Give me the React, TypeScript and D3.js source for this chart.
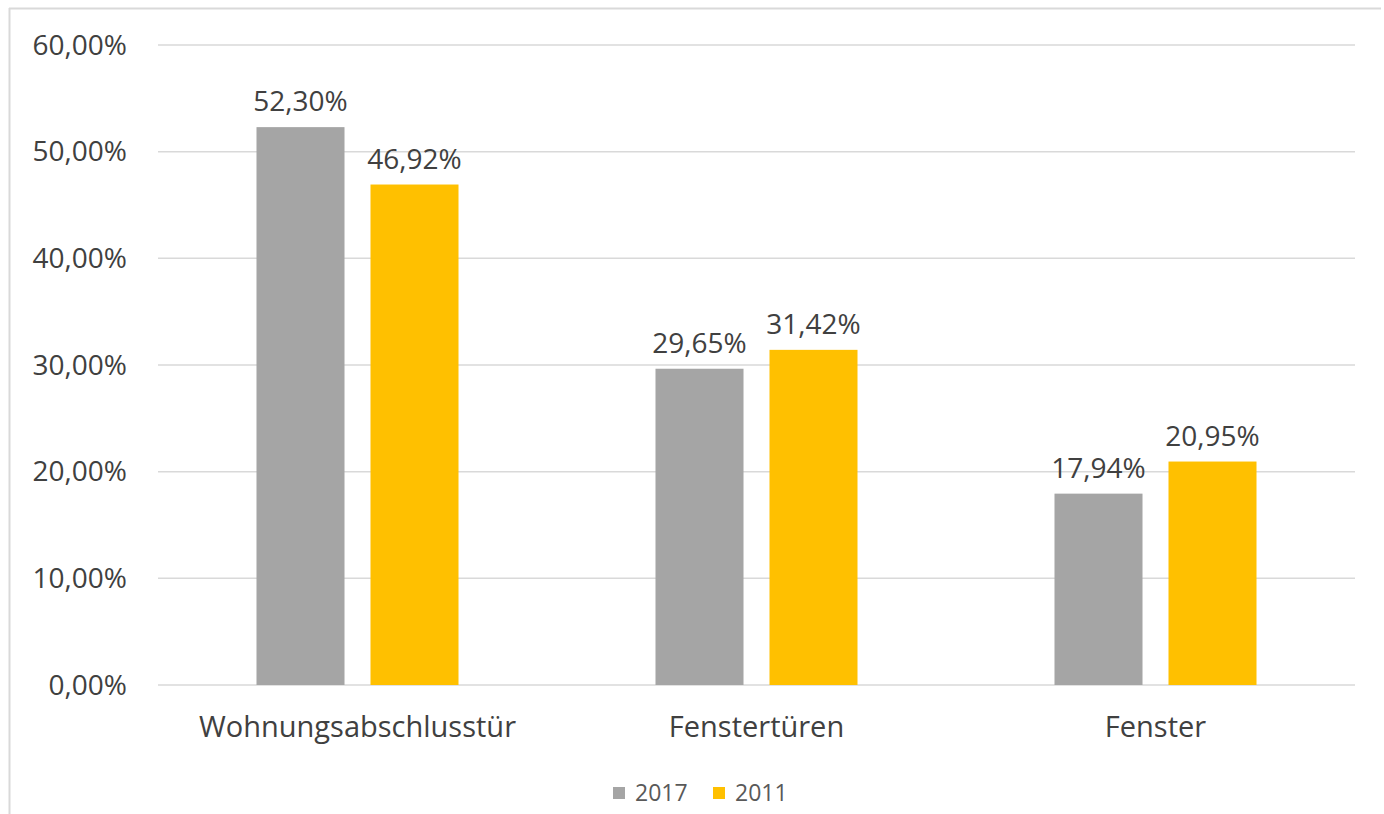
import React from 'react';
import * as d3 from 'd3';

// chart data
const categories = ['Wohnungsabschlusstür', 'Fenstertüren', 'Fenster'];
const seriesNames = ['2017', '2011'];
const values2017 = [52.3, 29.65, 17.94];
const values2011 = [46.92, 31.42, 20.95];
const yTicks = [0, 10, 20, 30, 40, 50, 60];

const colors = ['#A5A5A5', '#FFC000'];
const font = '"Open Sans", Lato, sans-serif';

const W = 1384;
const H = 814;
const m = { left: 158, right: 1355, top: 45, bottom: 685 };

const fmt = (v: number) => v.toFixed(2).replace('.', ',') + '%';

export default function App() {
  const x = d3.scaleBand<string>()
    .domain(categories)
    .range([m.left, m.right]);
  const x1 = d3.scaleBand<string>()
    .domain(seriesNames)
    .range([0, x.bandwidth()])
    .paddingInner(0.228)
    .paddingOuter(0.864);
  const y = d3.scaleLinear().domain([0, 60]).range([m.bottom, m.top]);

  const series = [values2017, values2011];

  return (
    <svg width={W} height={H} style={{ position: 'absolute', left: 0, top: 0, background: '#fff' }}>
      {/* frame, only top and left edges visible */}
      <line x1={9} x2={1381} y1={8.5} y2={8.5} stroke="#D9D9D9" strokeWidth={2} />
      <line x1={9.5} x2={9.5} y1={8} y2={H} stroke="#D9D9D9" strokeWidth={2} />

      {/* gridlines + ticks */}
      {yTicks.map(t => (
        <g key={t}>
          <line x1={m.left} x2={m.right} y1={y(t)} y2={y(t)} stroke="#D9D9D9" strokeWidth={1.5} />
          <text x={127} y={y(t)} dy="0.35em" textAnchor="end" fontFamily={font} fontSize={28} fill="#404040">
            {fmt(t)}
          </text>
        </g>
      ))}

      {/* bars */}
      {categories.map((c, ci) => (
        <g key={c} transform={`translate(${x(c)},0)`}>
          {series.map((vals, si) => {
            const bx = x1(seriesNames[si])!;
            const v = vals[ci];
            return (
              <g key={si}>
                <rect x={bx} y={y(v)} width={x1.bandwidth()} height={y(0) - y(v)} fill={colors[si]} />
                <text x={bx + x1.bandwidth() / 2} y={y(v) - 16} textAnchor="middle" fontFamily={font} fontSize={28} fill="#404040">
                  {fmt(v)}
                </text>
              </g>
            );
          })}
          <text x={x.bandwidth() / 2} y={737} textAnchor="middle" fontFamily={font} fontSize={29} fill="#404040">
            {c}
          </text>
        </g>
      ))}

      {/* legend */}
      {seriesNames.map((s, i) => (
        <g key={s} transform={`translate(${613 + i * 100},787)`}>
          <rect x={0} y={0} width={12} height={12} fill={colors[i]} />
          <text x={22} y={6} dy="0.35em" fontFamily={font} fontSize={23} fill="#595959">{s}</text>
        </g>
      ))}
    </svg>
  );
}
